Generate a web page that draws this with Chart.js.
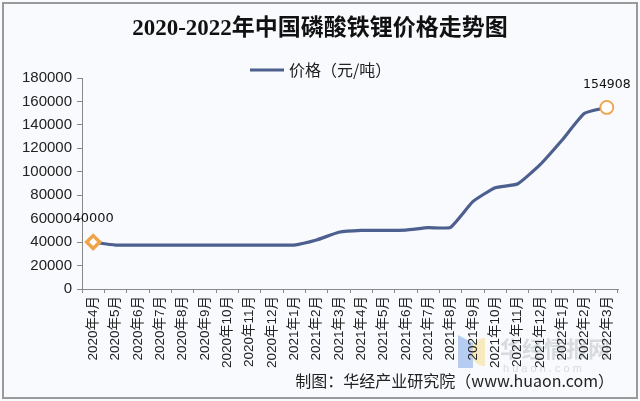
<!DOCTYPE html>
<html><head><meta charset="utf-8">
<script src="https://cdn.jsdelivr.net/npm/chart.js@4"></script>
<style>html,body{margin:0;padding:0;background:#fff}#wrap{width:640px;height:401px}</style>
</head><body><div id="wrap"><canvas id="c" width="640" height="401"></canvas></div>
<script>
const categories = ['2020年4月','2020年5月','2020年6月','2020年7月','2020年8月','2020年9月','2020年10月','2020年11月','2020年12月','2021年1月','2021年2月','2021年3月','2021年4月','2021年5月','2021年6月','2021年7月','2021年8月','2021年9月','2021年10月','2021年11月','2021年12月','2022年1月','2022年2月','2022年3月'];
const prices = [40000,37500,37500,37500,37500,37500,37500,37500,37500,37500,41800,48400,50000,50000,50300,52300,52600,74500,86400,89600,105800,127100,149900,154908];
const seriesName = '价格（元/吨）';
const titleText = '2020-2022年中国磷酸铁锂价格走势图';
const footerText = '制图：华经产业研究院（www.huaon.com）';
const labeledIdx = [0, 23];

const LINE = '#4d5f8e', ORANGE = '#f0a44a';
const n = prices.length;
const pStyle = prices.map((v,i)=> i===0 ? 'rectRot' : (i===n-1 ? 'circle' : false));
const pRad = prices.map((v,i)=> i===0 ? 6.5 : (i===n-1 ? 6.5 : 0));
const pBW = prices.map((v,i)=> i===0 ? 3.5 : 1.8);

const deco = {
  id:'deco',
  beforeDraw(chart){
    const c = chart.ctx;
    c.save();
    c.fillStyle = '#f8fafd';
    c.fillRect(0,0,640,401);
    c.strokeStyle = '#9a9a9a';
    c.lineWidth = 2;
    c.strokeRect(3,3,634,395);
    // watermark
    c.globalAlpha = 0.55;
    c.fillStyle = '#7fa8e8';
    c.beginPath(); c.moveTo(458,335); c.lineTo(473,343); c.lineTo(473,368); c.lineTo(458,368); c.closePath(); c.fill();
    c.fillStyle = '#f5dc8a';
    c.beginPath(); c.arc(485,352,14,Math.PI*0.5,Math.PI*1.5); c.fill();
    c.globalAlpha = 0.35;
    c.fillStyle = '#9aa0a8';
    c.font = 'bold 22px "Noto Sans CJK SC"';
    c.textBaseline = 'middle';
    c.fillText('华经情报网', 500, 349);
    c.font = '11px "Liberation Sans"';
    c.fillText('h u a o n . c o m', 503, 369);
    c.restore();
  },
  afterDraw(chart){
    const c = chart.ctx;
    c.save();
    c.fillStyle = '#111';
    c.textBaseline = 'middle';
    c.textAlign = 'center';
    c.font = 'bold 23px "Liberation Serif", "Noto Sans CJK SC"';
    c.fillText(titleText, 320, 29);
    // legend
    c.strokeStyle = LINE; c.lineWidth = 3;
    c.beginPath(); c.moveTo(250,70); c.lineTo(284,70); c.stroke();
    c.textAlign = 'left';
    c.fillStyle = '#222';
    c.font = '16px "Noto Sans CJK SC"';
    c.fillText(seriesName, 289, 70);
    // footer
    c.textAlign = 'right';
    c.font = '16px "Noto Sans CJK SC"';
    c.fillText(footerText, 614, 381);
    // data labels
    const meta = chart.getDatasetMeta(0);
    c.textAlign = 'center';
    c.fillStyle = '#111';
    labeledIdx.forEach(i=>{
      const p = meta.data[i];
      c.font = (i===0 ? '13px' : '12.5px') + ' "DejaVu Sans"';
      c.fillText(String(prices[i]), p.x, p.y - 23);
    });
    c.restore();
  }
};

new Chart(document.getElementById('c'), {
  type:'line',
  data:{labels:categories, datasets:[{label:seriesName, data:prices, borderColor:LINE, borderWidth:3.2, tension:0.15,
    pointStyle:pStyle, pointRadius:pRad, pointBorderColor:ORANGE, pointBackgroundColor:'#fff', pointBorderWidth:pBW, pointHoverRadius:pRad}]},
  options:{
    responsive:false, animation:false, events:[],
    layout:{padding:{top:78, right:22, left:0, bottom:0}},
    plugins:{legend:{display:false}, title:{display:false}, tooltip:{enabled:false}},
    scales:{
      x:{offset:true,
        grid:{offset:true, drawOnChartArea:false, drawTicks:true, tickLength:4, color:'#888'},
        border:{display:true, color:'#888'},
        ticks:{autoSkip:false, maxRotation:90, minRotation:90, padding:3, color:'#222', font:{size:13.5, family:'"Liberation Sans", "Noto Sans CJK SC"'}},
        afterFit(s){ s.height = 401 - 289; }
      },
      y:{min:0, max:180000,
        grid:{drawOnChartArea:false, drawTicks:true, tickLength:5, color:'#888'},
        border:{display:true, color:'#888'},
        ticks:{stepSize:20000, padding:5, color:'#222', font:{size:15, family:'"Liberation Sans"'}, callback:(v)=>String(v)},
        afterFit(s){ s.width = 82; }
      }
    }
  },
  plugins:[deco]
});
</script></body></html>
